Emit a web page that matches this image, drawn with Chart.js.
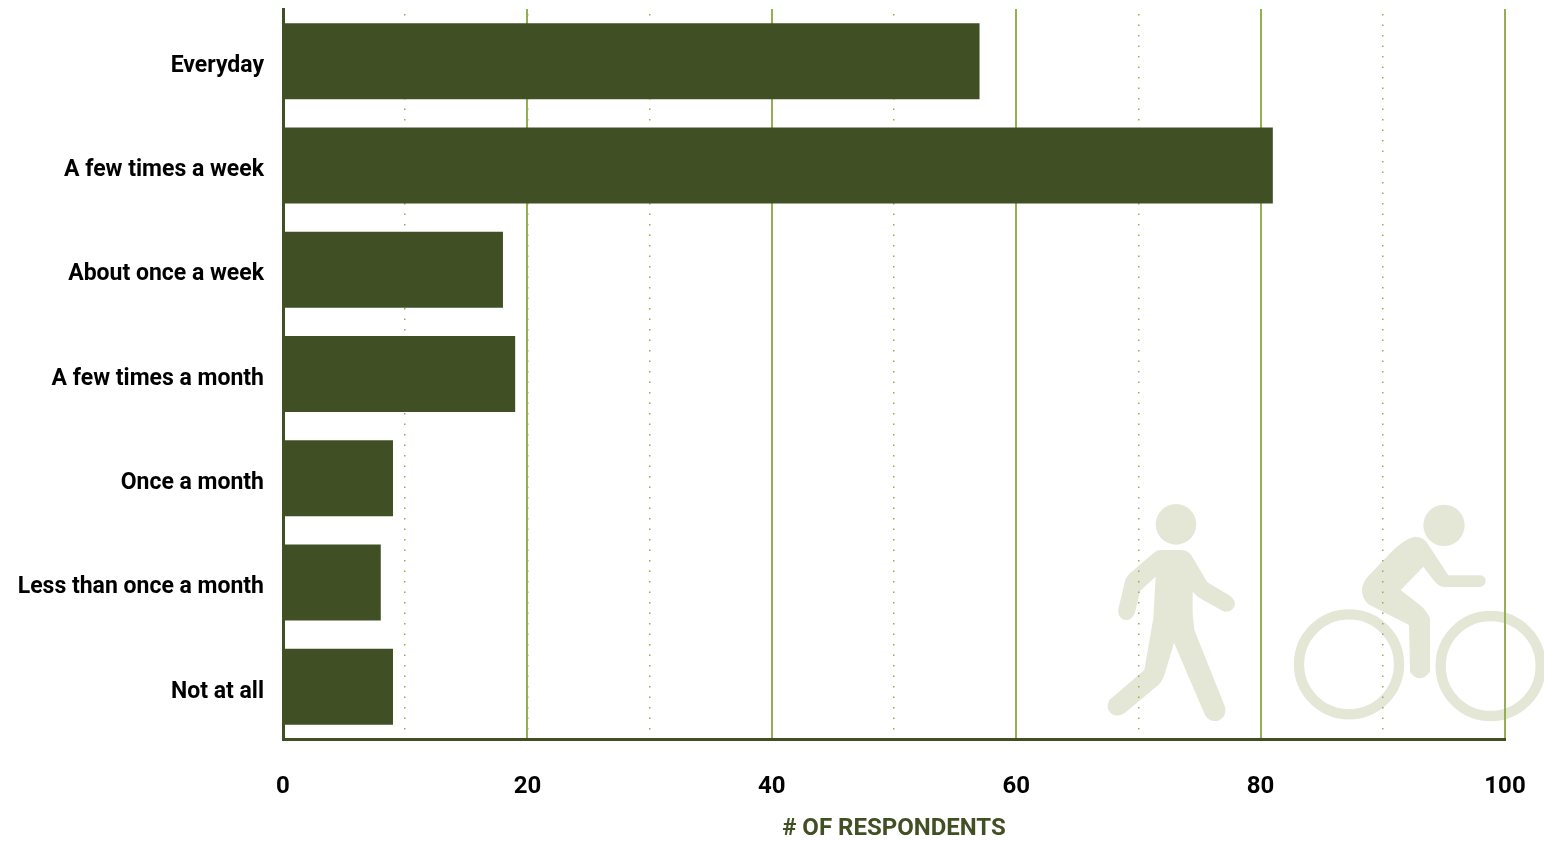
<!DOCTYPE html>
<html>
<head>
<meta charset="utf-8">
<title>Walking and biking frequency</title>
<script src="https://cdn.jsdelivr.net/npm/chart.js@4"></script>
<style>
  html, body { margin: 0; padding: 0; background: #fff; }
  #wrap { width: 1544px; height: 841px; }
</style>
</head>
<body>
<div id="wrap"><canvas id="chart-frequency" width="1544" height="841"></canvas></div>
<script>
const categories = ["Everyday", "A few times a week", "About once a week", "A few times a month", "Once a month", "Less than once a month", "Not at all"];
const respondents = [57, 81, 18, 19, 9, 8, 9];
const axisMax = 100;
const majorStep = 20;
const minorStep = 10;

const DARK = "#414f24";
const GRID = "#94ae52";
const ICON = "#e4e7d5";
const FONT = "Roboto";

const WALKER = "M215,180 L275,180 Q295,182 305,197 L352,277 L420,317 Q440,332 433,350 Q420,370 398,363 L335,328 Q318,318 308,305 L308,370 L313,420 L405,650 Q412,680 385,692 Q358,698 345,675 L252,458 L225,550 Q218,572 205,585 L105,668 Q85,683 65,672 Q45,655 58,630 L163,540 L190,385 L197,260 L150,303 L135,368 Q125,392 105,390 Q82,385 85,358 L105,272 Q110,260 120,250 L190,190 Q200,180 215,180 Z";
const RIDER = "M975,140 Q1000,140 1012,160 L1075,256 L1172,256 Q1188,260 1187,274 Q1185,290 1168,291 L1060,291 Q1045,288 1032,272 L1000,230 L932,300 L990,345 Q1010,362 1020,385 L1020,545 Q1005,565 988,565 Q970,562 960,545 L957,405 L835,343 Q815,325 816,295 Q820,275 835,258 L905,185 Q945,145 975,140 Z";

// pale walker and cyclist sit behind the grid lines
const iconsPlugin = {
  id: "icons",
  beforeDraw(chart) {
    const ctx = chart.ctx;
    ctx.save();
    ctx.translate(1090, 490);
    ctx.scale(1 / 3, 1 / 3);
    ctx.fillStyle = ICON;
    ctx.strokeStyle = ICON;
    ctx.fill(new Path2D(WALKER));
    ctx.fill(new Path2D(RIDER));
    ctx.beginPath();
    ctx.arc(258, 103, 61, 0, Math.PI * 2);
    ctx.fill();
    ctx.beginPath();
    ctx.arc(1062, 106, 62, 0, Math.PI * 2);
    ctx.fill();
    ctx.lineWidth = 31;
    ctx.beginPath();
    ctx.arc(777, 523, 150, 0, Math.PI * 2);
    ctx.stroke();
    ctx.beginPath();
    ctx.arc(1202, 528, 150, 0, Math.PI * 2);
    ctx.stroke();
    ctx.restore();
  },
};

// stop the labels from pushing the plot area inwards
function noLabelPadding(scale) {
  scale.paddingLeft = 0;
  scale.paddingRight = 0;
  scale.paddingTop = 0;
  scale.paddingBottom = 0;
}

new Chart(document.getElementById("chart-frequency").getContext("2d"), {
  type: "bar",
  data: {
    labels: categories,
    datasets: [
      {
        data: respondents,
        backgroundColor: DARK,
        borderWidth: 0,
        barPercentage: 0.729,
        categoryPercentage: 1,
        xAxisID: "x",
        yAxisID: "y",
      },
    ],
  },
  options: {
    indexAxis: "y",
    responsive: false,
    animation: false,
    layout: { padding: { left: 0, right: 39, top: 9, bottom: 0 } },
    plugins: { legend: { display: false }, tooltip: { enabled: false } },
    scales: {
      y: {
        grid: { display: false, drawTicks: false },
        border: { display: true, color: DARK, width: 3, z: 1 },
        ticks: { color: "#000", padding: 19, labelOffset: 5, font: { family: FONT, size: 23, weight: "700" } },
        afterFit(scale) {
          scale.width = 283;
          noLabelPadding(scale);
        },
      },
      x: {
        position: "bottom",
        min: 0,
        max: axisMax,
        grid: { color: GRID, lineWidth: 2, drawTicks: false },
        border: { display: true, color: DARK, width: 3, z: 1 },
        ticks: {
          stepSize: majorStep,
          color: "#000",
          padding: 34,
          maxRotation: 0,
          font: { family: FONT, size: 24, weight: "700" },
        },
        title: {
          display: true,
          text: "# OF RESPONDENTS",
          color: DARK,
          padding: { top: 12, bottom: -2 },
          font: { family: FONT, size: 24, weight: "700" },
        },
        afterFit(scale) {
          scale.height = 102;
          noLabelPadding(scale);
        },
      },
      // second axis only carries the dotted lines every 10
      x2: {
        position: "bottom",
        min: 0,
        max: axisMax,
        grid: { color: GRID, lineWidth: 1.5, drawTicks: false },
        border: { display: false, dash: [1.5, 9], dashOffset: 5.5 },
        ticks: { display: false, stepSize: minorStep },
        afterFit(scale) {
          scale.height = 0;
          noLabelPadding(scale);
        },
      },
    },
  },
  plugins: [iconsPlugin],
});
</script>
</body>
</html>
